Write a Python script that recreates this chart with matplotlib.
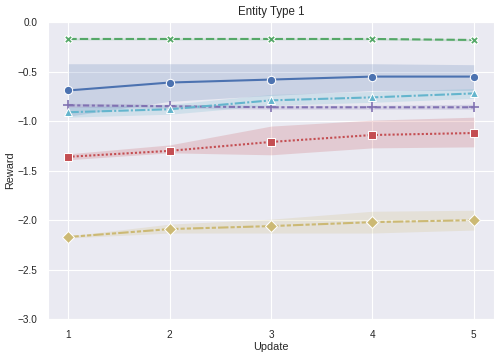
import numpy as np
import matplotlib
matplotlib.use("Agg")
import matplotlib.pyplot as plt
import seaborn as sns

updates = [1, 2, 3, 4, 5]

# mean reward per entity group, with lower / upper edge of the shaded band
blue_mean = [-0.69, -0.61, -0.58, -0.55, -0.55]
blue_lo = [-0.95, -0.80, -0.74, -0.69, -0.69]
blue_hi = [-0.42, -0.42, -0.42, -0.42, -0.43]

green_mean = [-0.17, -0.17, -0.17, -0.17, -0.18]
green_lo = [-0.18, -0.18, -0.18, -0.18, -0.19]
green_hi = [-0.16, -0.16, -0.16, -0.16, -0.17]

red_mean = [-1.36, -1.30, -1.21, -1.14, -1.12]
red_lo = [-1.39, -1.32, -1.34, -1.27, -1.26]
red_hi = [-1.33, -1.24, -1.05, -0.99, -0.96]

purple_mean = [-0.84, -0.85, -0.86, -0.86, -0.86]
purple_lo = [-0.86, -0.87, -0.88, -0.88, -0.88]
purple_hi = [-0.82, -0.83, -0.84, -0.84, -0.83]

cyan_mean = [-0.91, -0.88, -0.79, -0.76, -0.72]
cyan_lo = [-0.96, -0.93, -0.84, -0.81, -0.77]
cyan_hi = [-0.86, -0.83, -0.73, -0.70, -0.67]

yellow_mean = [-2.17, -2.09, -2.06, -2.02, -2.00]
yellow_lo = [-2.18, -2.13, -2.13, -2.13, -2.10]
yellow_hi = [-2.16, -2.04, -1.99, -1.91, -1.90]

sns.set_style("darkgrid")
plt.rcParams['font.family'] = ['Liberation Sans', 'DejaVu Sans']

fig = plt.figure(figsize=(5.01, 3.57), dpi=100)
ax = fig.add_axes([0.096, 0.106, 0.89, 0.832])

# mean, lo, hi, colour, marker, linestyle, marker size, marker edge
series = [
    (blue_mean, blue_lo, blue_hi, "#4C72B0", "o", "-", 6, "white"),
    (green_mean, green_lo, green_hi, "#55A868", "X", (0, (4, 1.5)), 6, "white"),
    (red_mean, red_lo, red_hi, "#C44E52", "s", (0, (1, 1)), 6, "white"),
    (purple_mean, purple_lo, purple_hi, "#8172B2", "+", (0, (3, 1.25, 1.5, 1.25)), 7, None),
    (cyan_mean, cyan_lo, cyan_hi, "#64B5CD", "^", (0, (5, 1, 1, 1)), 6, "white"),
    (yellow_mean, yellow_lo, yellow_hi, "#CCB974", "D", (0, (5, 1, 2, 1, 2, 1)), 6, "white"),
]

for mean, lo, hi, col, mk, ls, ms, edge in series:
    ax.fill_between(updates, lo, hi, color=col, alpha=0.2, linewidth=0)
    if edge is None:
        ax.plot(updates, mean, color=col, marker=mk, linestyle=ls, linewidth=1.5,
                markersize=ms, markeredgewidth=1.2)
    else:
        ax.plot(updates, mean, color=col, marker=mk, linestyle=ls, linewidth=1.5,
                markersize=ms, markeredgecolor=edge, markeredgewidth=0.75)

ax.set_ylim(-3.0, 0.0)
ax.set_xticks(updates)
ax.set_yticks(np.arange(-3.0, 0.01, 0.5))
ax.tick_params(labelsize=7.2, colors="#262626", pad=4)
ax.set_xlabel("Update", fontsize=7.8, color="#262626", labelpad=2)
ax.set_ylabel("Reward", fontsize=7.8, color="#262626", labelpad=2)
ax.set_title("Entity Type 1", fontsize=8.3, color="#262626", pad=5)

plt.savefig("out.png", dpi=100)
